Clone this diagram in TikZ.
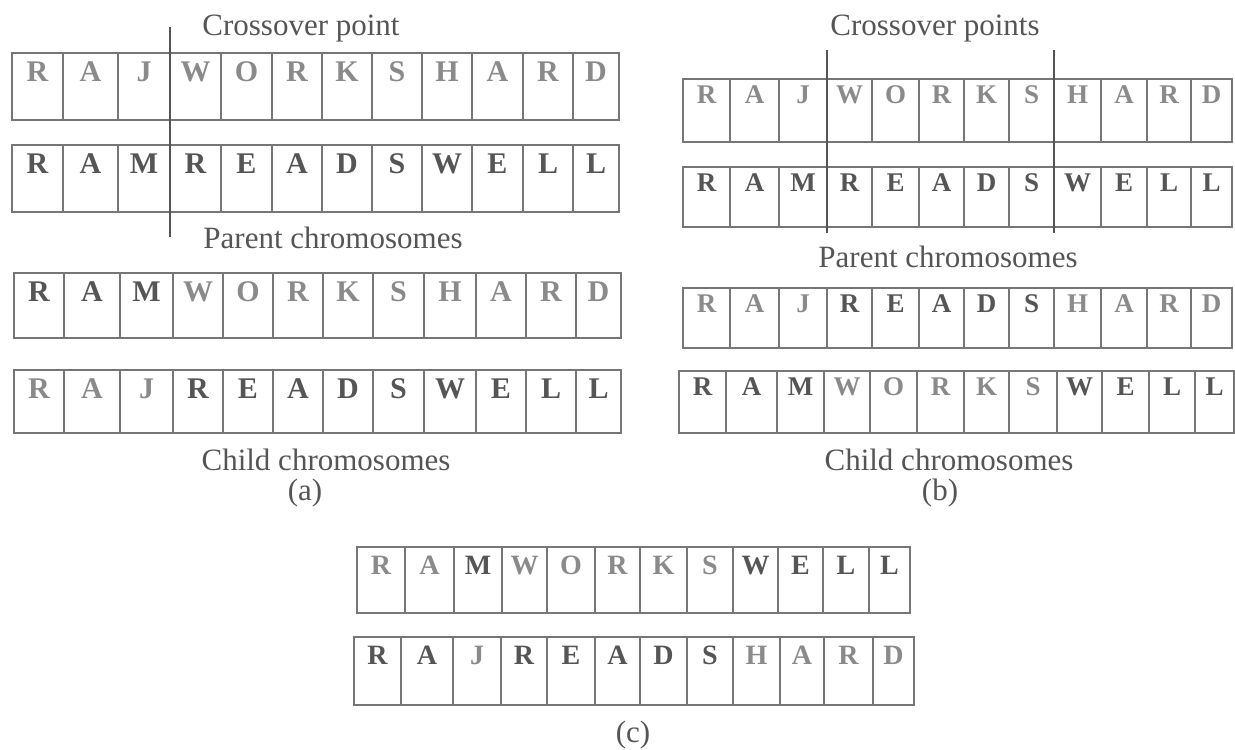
\documentclass[tikz,border=0pt]{standalone}
\usepackage{fontspec}
\setmainfont{Liberation Serif}
\usetikzlibrary{calc}

\definecolor{boxline}{HTML}{767676}
\definecolor{lightgene}{HTML}{8A8A8A}
\definecolor{darkgene}{HTML}{555555}
\definecolor{labeltext}{HTML}{555555}
\definecolor{cutline}{HTML}{555555}

\tikzset{
  cellbox/.style={draw=boxline, line width=2pt, inner sep=0pt, outer sep=0pt},
  ltrlight/.style={text=lightgene, inner sep=0pt},
  ltrdark/.style={text=darkgene, inner sep=0pt},
  caption/.style={text=labeltext, font=\fontsize{31}{36}\selectfont, anchor=base, inner sep=0pt},
  cut/.style={draw=cutline, line width=1.8pt}
}

% One chromosome: #1 name, #2 top, #3 bottom, #4 cell borders (13 values),
% #5 letter size, #6 baseline offset from the top, #7 letter/style pairs
\newcommand\chromrow[7]{%
  \foreach \cellchar/\cellsty [count=\i from 0] in {#7} {
    \pgfmathsetmacro\cellxl{{#4}[\i]}
    \pgfmathsetmacro\cellxr{{#4}[\i+1]}
    \pgfmathsetmacro\cellxc{(\cellxl+\cellxr)/2}
    \pgfmathsetmacro\cellyc{(#2+#3)/2}
    \pgfmathsetmacro\cellw{\cellxr-\cellxl}
    \pgfmathsetmacro\cellh{#3-#2}
    \node[cellbox, minimum width=\cellw pt, minimum height=\cellh pt] (#1-\i) at (\cellxc,\cellyc) {};
    \node[\cellsty, font=\fontsize{#5}{#5}\selectfont\bfseries, anchor=base] (#1-\i-t) at (\cellxc,#2+#6) {\cellchar};
  }
}

\begin{document}
\begin{tikzpicture}[x=1pt, y=-1pt]
\useasboundingbox (0,0) rectangle (1235,750);

% ---------- (a) single-point crossover ----------
\chromrow{a1}{53}{120}{12,63,118,170,221,272,322,372,422,472,523,573,619}{30}{28}
  {R/ltrlight,A/ltrlight,J/ltrlight,W/ltrlight,O/ltrlight,R/ltrlight,K/ltrlight,S/ltrlight,H/ltrlight,A/ltrlight,R/ltrlight,D/ltrlight}
\chromrow{a2}{145}{212}{12,63,118,170,221,272,322,372,422,472,523,573,619}{30}{28}
  {R/ltrdark,A/ltrdark,M/ltrdark,R/ltrdark,E/ltrdark,A/ltrdark,D/ltrdark,S/ltrdark,W/ltrdark,E/ltrdark,L/ltrdark,L/ltrdark}
\chromrow{a3}{273}{338}{14,64,120,173,223,273,323,373,424,476,526,576,621}{30}{28}
  {R/ltrdark,A/ltrdark,M/ltrdark,W/ltrlight,O/ltrlight,R/ltrlight,K/ltrlight,S/ltrlight,H/ltrlight,A/ltrlight,R/ltrlight,D/ltrlight}
\chromrow{a4}{370}{433}{14,64,120,173,223,273,323,373,424,476,526,576,621}{30}{28}
  {R/ltrlight,A/ltrlight,J/ltrlight,R/ltrdark,E/ltrdark,A/ltrdark,D/ltrdark,S/ltrdark,W/ltrdark,E/ltrdark,L/ltrdark,L/ltrdark}

\coordinate (acut-top) at (170,27);
\coordinate (acut-bot) at (170,237);
\draw[cut] (acut-top) -- (acut-bot);

\node[caption] (a-cross) at (301,35) {Crossover point};
\node[caption] (a-parent) at (333,248) {Parent chromosomes};
\node[caption] (a-child) at (326,470) {Child chromosomes};
\node[caption] (a-tag) at (305,500) {(a)};

% ---------- (b) two-point crossover ----------
\chromrow{b1}{79}{142}{683,730,779,827,872,919,964,1009,1054,1101,1147,1191,1232}{27}{24}
  {R/ltrlight,A/ltrlight,J/ltrlight,W/ltrlight,O/ltrlight,R/ltrlight,K/ltrlight,S/ltrlight,H/ltrlight,A/ltrlight,R/ltrlight,D/ltrlight}
\chromrow{b2}{167}{227}{683,730,779,827,872,919,964,1009,1054,1101,1147,1191,1232}{27}{24}
  {R/ltrdark,A/ltrdark,M/ltrdark,R/ltrdark,E/ltrdark,A/ltrdark,D/ltrdark,S/ltrdark,W/ltrdark,E/ltrdark,L/ltrdark,L/ltrdark}
\chromrow{b3}{288}{348}{683,730,779,827,872,919,964,1009,1054,1101,1147,1191,1232}{27}{24}
  {R/ltrlight,A/ltrlight,J/ltrlight,R/ltrdark,E/ltrdark,A/ltrdark,D/ltrdark,S/ltrdark,H/ltrlight,A/ltrlight,R/ltrlight,D/ltrlight}
\chromrow{b4}{371}{433}{679,726,777,824,870,917,964,1009,1057,1102,1149,1195,1234}{27}{24}
  {R/ltrdark,A/ltrdark,M/ltrdark,W/ltrlight,O/ltrlight,R/ltrlight,K/ltrlight,S/ltrlight,W/ltrdark,E/ltrdark,L/ltrdark,L/ltrdark}

\coordinate (bcut1-top) at (827,50);
\coordinate (bcut1-bot) at (827,233);
\coordinate (bcut2-top) at (1054,50);
\coordinate (bcut2-bot) at (1054,233);
\draw[cut] (bcut1-top) -- (bcut1-bot);
\draw[cut] (bcut2-top) -- (bcut2-bot);

\node[caption] (b-cross) at (935,35) {Crossover points};
\node[caption] (b-parent) at (948,267) {Parent chromosomes};
\node[caption] (b-child) at (949,470) {Child chromosomes};
\node[caption] (b-tag) at (940,500) {(b)};

% ---------- (c) uniform crossover ----------
\chromrow{c1}{547}{613}{357,405,454,502,547,595,640,687,733,778,823,869,910}{28}{27}
  {R/ltrlight,A/ltrlight,M/ltrdark,W/ltrlight,O/ltrlight,R/ltrlight,K/ltrlight,S/ltrlight,W/ltrdark,E/ltrdark,L/ltrdark,L/ltrdark}
\chromrow{c2}{637}{705}{354,401,453,501,547,595,640,687,733,780,824,873,914}{28}{27}
  {R/ltrdark,A/ltrdark,J/ltrlight,R/ltrdark,E/ltrdark,A/ltrdark,D/ltrdark,S/ltrdark,H/ltrlight,A/ltrlight,R/ltrlight,D/ltrlight}

\node[caption] (c-tag) at (633,742) {(c)};
\end{tikzpicture}
\end{document}
